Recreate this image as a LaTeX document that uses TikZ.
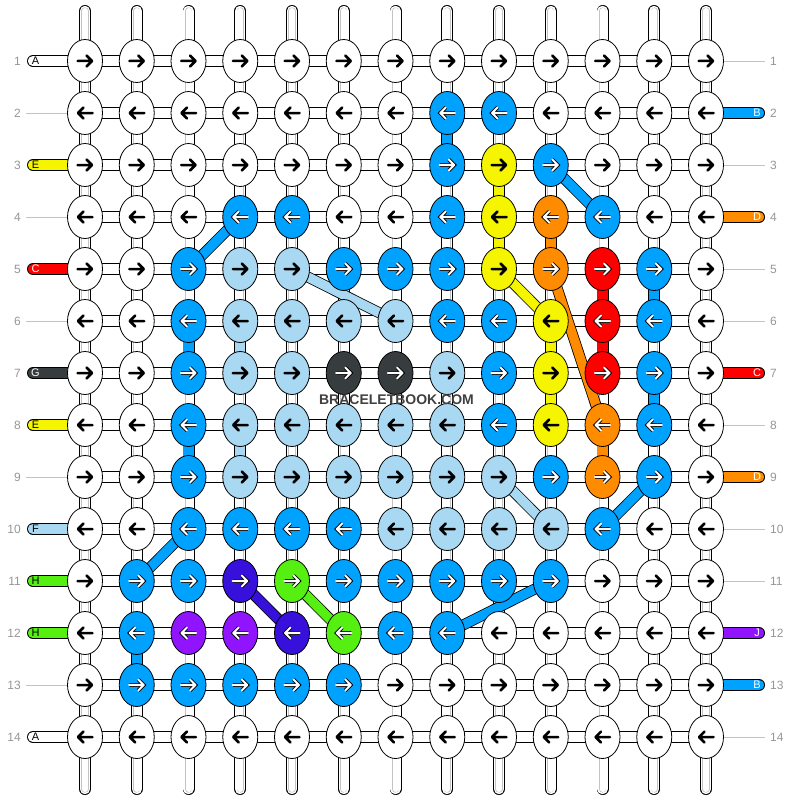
\documentclass[tikz,border=0pt]{standalone}
\usepackage{fontspec}
\setmainfont{Liberation Sans}
\usepackage{tikz}
\usetikzlibrary{shapes.geometric}

\definecolor{colA}{RGB}{255,255,255}
\definecolor{colB}{RGB}{0,162,255}
\definecolor{colC}{RGB}{255,0,0}
\definecolor{colD}{RGB}{255,140,0}
\definecolor{colE}{RGB}{245,245,0}
\definecolor{colF}{RGB}{168,216,242}
\definecolor{colG}{RGB}{55,60,62}
\definecolor{colH}{RGB}{85,240,17}
\definecolor{colI}{RGB}{55,16,220}
\definecolor{colJ}{RGB}{145,20,255}
\definecolor{numgray}{RGB}{150,150,150}
\definecolor{strgray}{RGB}{195,195,195}
\definecolor{logo}{RGB}{64,64,64}

\begin{document}
\begin{tikzpicture}[x=1pt,y=-1pt,
  knt/.style={ellipse,draw=black,line width=0.8pt,minimum width=35pt,minimum height=43pt,inner sep=0pt},
  hbar/.style={draw=black,line width=0.8pt,double=#1,double distance=10.4pt},hbar/.default=white,
  vgray/.style={draw=strgray,line width=0.6pt,double=white,double distance=6pt},
  endcap/.style={hbar=#1,line cap=round},endcap/.default=white,
  band/.style={draw=black,line width=0.8pt,double=#1,double distance=9.4pt},
  rownum/.style={text=numgray,font=\fontsize{12}{12}\selectfont,inner sep=0pt},
  letter/.style={font=\fontsize{11}{11}\selectfont,inner sep=0pt},
  ark/.style={draw=black,line width=2.5pt,line cap=round,line join=round},
  arw/.style={draw=white,line width=2.1pt,line cap=round,line join=round,preaction={draw=black,line width=3.7pt}},
  arA/.style=ark,arE/.style=ark,arF/.style=ark,
  arB/.style=arw,arC/.style=arw,arD/.style=arw,arG/.style=arw,arH/.style=arw,arI/.style=arw,arJ/.style=arw]

\useasboundingbox (0,0) rectangle (792,800);

\foreach \r in {1,...,14}
  \foreach \c in {1,...,13}
    \coordinate (p-\r-\c) at ({85+(\c-1)*51.75},{61+(\r-1)*52});

\foreach \c in {1,...,13} {
  \coordinate (top-\c) at ({85+(\c-1)*51.75},11);
  \coordinate (bot-\c) at ({85+(\c-1)*51.75},789);
  \draw[endcap] (top-\c) -- (p-1-\c);
  \draw[vgray,line cap=round] (top-\c) -- (p-1-\c);
  \draw[endcap] (p-14-\c) -- (bot-\c);
  \draw[vgray,line cap=round] (p-14-\c) -- (bot-\c);
}

\foreach \r/\k/\tc in {1/A/black,3/E/black,5/C/white,7/G/white,8/E/black,10/F/black,11/H/black,12/H/black,14/A/black} {
  \coordinate (ls-\r) at (33,{61+(\r-1)*52});
  \draw[endcap=col\k] (ls-\r) -- (p-\r-1);
  \node[letter,text=\tc] (ll-\r) at (35.5,{61+(\r-1)*52}) {\k};
}
\foreach \r in {2,4,6,9,13} {
  \coordinate (lg-\r) at (26,{61+(\r-1)*52});
  \draw[strgray,line width=0.8pt] (lg-\r) -- (p-\r-1);
}
\foreach \r/\k in {2/B,4/D,7/C,9/D,12/J,13/B} {
  \coordinate (rs-\r) at (759,{61+(\r-1)*52});
  \draw[endcap=col\k] (p-\r-13) -- (rs-\r);
  \node[letter,text=white] (rl-\r) at (757,{61+(\r-1)*52}) {\k};
}
\foreach \r in {1,3,5,6,8,10,11,14} {
  \coordinate (rg-\r) at (765,{61+(\r-1)*52});
  \draw[strgray,line width=0.8pt] (p-\r-13) -- (rg-\r);
}
\foreach \r in {1,...,14} {
  \node[rownum,anchor=east] (nl-\r) at (21,{61+(\r-1)*52}) {\r};
  \node[rownum,anchor=west] (nr-\r) at (770,{61+(\r-1)*52}) {\r};
}

\foreach \r in {1,...,14}
  \foreach \c in {1,...,12} {
    \pgfmathtruncatemacro\cn{\c+1}
    \draw[hbar] (p-\r-\c) -- (p-\r-\cn);
  }
\foreach \r in {1,...,13}
  \foreach \c in {1,...,13} {
    \pgfmathtruncatemacro\rn{\r+1}
    \draw[hbar] (p-\r-\c) -- (p-\rn-\c);
    \draw[vgray] (p-\r-\c) -- (p-\rn-\c);
  }
\foreach \r/\c/\k in {2/8/B,3/9/E,4/9/E,4/10/D,6/10/E,7/10/E,5/11/C,6/11/C,8/11/D,
                      5/12/B,7/12/B,6/3/B,8/3/B,6/4/F,8/4/F,12/2/B} {
  \pgfmathtruncatemacro\rn{\r+1}
  \draw[hbar=col\k] (p-\r-\c) -- (p-\rn-\c);
}

\foreach \ra/\ca/\rb/\cb/\k in {3/10/4/11/B,4/4/5/3/B,5/5/6/7/F,5/9/6/10/E,5/10/8/11/D,9/9/10/10/F,
                                9/12/10/11/B,10/3/11/2/B,11/4/12/5/I,11/5/12/6/H,11/10/12/8/B}
  \draw[band=col\k] (p-\ra-\ca) -- (p-\rb-\cb);

\foreach \r/\row in {
   1/{A,A,A,A,A,A,A,A,A,A,A,A,A},
   2/{A,A,A,A,A,A,A,B,B,A,A,A,A},
   3/{A,A,A,A,A,A,A,B,E,B,A,A,A},
   4/{A,A,A,B,B,A,A,B,E,D,B,A,A},
   5/{A,A,B,F,F,B,B,B,E,D,C,B,A},
   6/{A,A,B,F,F,F,F,B,B,E,C,B,A},
   7/{A,A,B,F,F,G,G,F,B,E,C,B,A},
   8/{A,A,B,F,F,F,F,F,B,E,D,B,A},
   9/{A,A,B,F,F,F,F,F,F,B,D,B,A},
  10/{A,A,B,B,B,B,F,F,F,F,B,A,A},
  11/{A,B,B,I,H,B,B,B,B,B,A,A,A},
  12/{A,B,J,J,I,H,B,B,A,A,A,A,A},
  13/{A,B,B,B,B,B,A,A,A,A,A,A,A},
  14/{A,A,A,A,A,A,A,A,A,A,A,A,A}} {
  \pgfmathtruncatemacro\dir{1-2*mod(\r+1,2)}
  \foreach \k [count=\c] in \row {
    \node[knt,fill=col\k] (k-\r-\c) at (p-\r-\c) {};
    \draw[ar\k,shift={(p-\r-\c)},xscale=\dir] (-7.5,0) -- (7,0) (1.5,-5.5) -- (7,0) -- (1.5,5.5);
  }
}

\node[text=logo,font=\bfseries\fontsize{14}{14}\selectfont,inner sep=0pt] (brand) at (396.5,400) {BRACELETBOOK.COM};

\end{tikzpicture}
\end{document}
